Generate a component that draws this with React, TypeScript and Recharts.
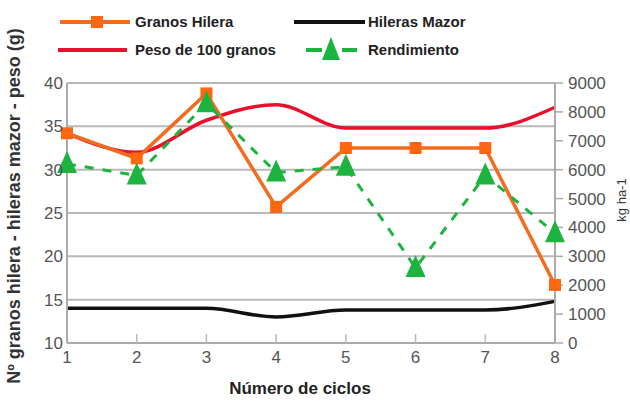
import React from 'react';
import { ComposedChart, Line, XAxis, YAxis, CartesianGrid, Label } from 'recharts';

const cycles = [1, 2, 3, 4, 5, 6, 7, 8];
const granosHilera = [34.2, 31.3, 38.8, 25.7, 32.5, 32.5, 32.5, 16.7];
const pesoGranos = [34.2, 32.0, 35.7, 37.5, 34.8, 34.8, 34.8, 37.2];
const hilerasMazor = [14.0, 14.0, 14.0, 13.0, 13.8, 13.8, 13.8, 14.8];
const rendimiento = [6200, 5800, 8300, 5900, 6100, 2600, 5800, 3800];
const leftTicks = [10, 15, 20, 25, 30, 35, 40];
const rightTicks = [0, 1000, 2000, 3000, 4000, 5000, 6000, 7000, 8000, 9000];

const seriesNames = ['Granos Hilera', 'Hileras Mazor', 'Peso de 100 granos', 'Rendimiento'];
const leftTitle = 'Nº granos hilera - hileras mazor - peso (g)';
const rightTitle = 'kg ha-1';
const xTitle = 'Número de ciclos';

const data = cycles.map((c, i) => ({
  ciclo: c,
  granos: granosHilera[i],
  peso: pesoGranos[i],
  hileras: hilerasMazor[i],
  rend: rendimiento[i],
}));

const ORANGE = '#f26b1f';
const ORANGE_MK = '#ff6610';
const RED = '#e8102c';
const BLACK = '#111111';
const GREEN = '#1db33f';
const FONT = '"Liberation Sans", Arial, sans-serif';

const SquareDot = (props: any) => {
  const { cx, cy } = props;
  if (cx == null || cy == null) return null;
  return <rect x={cx - 6} y={cy - 6} width={12} height={12} fill={ORANGE_MK} />;
};

const TriangleDot = (props: any) => {
  const { cx, cy } = props;
  if (cx == null || cy == null) return null;
  return <polygon points={`${cx},${cy - 13} ${cx - 10},${cy + 9} ${cx + 10},${cy + 9}`} fill={GREEN} />;
};

const LegendOverlay = () => (
  <svg width={630} height={70} style={{ position: 'absolute', left: 0, top: 0 }}>
    <g fontFamily={FONT} fontSize={15} fill="#222" fontWeight="bold">
      <line x1={60} x2={130} y1={22} y2={22} stroke={ORANGE} strokeWidth={4} />
      <rect x={91} y={16} width={12} height={12} fill={ORANGE_MK} />
      <text x={135} y={27}>{seriesNames[0]}</text>
      <line x1={294} x2={365} y1={22} y2={22} stroke={BLACK} strokeWidth={4} />
      <text x={368} y={27}>{seriesNames[1]}</text>
      <line x1={58} x2={127} y1={50} y2={50} stroke={RED} strokeWidth={4} />
      <text x={135} y={55}>{seriesNames[2]}</text>
      <line x1={306} x2={322} y1={50} y2={50} stroke={GREEN} strokeWidth={4} />
      <polygon points="331,37 322,60 340,60" fill={GREEN} />
      <line x1={342} x2={357} y1={50} y2={50} stroke={GREEN} strokeWidth={4} />
      <text x={368} y={55}>{seriesNames[3]}</text>
    </g>
  </svg>
);

export default function App() {
  return (
    <div style={{ position: 'absolute', left: 0, top: 0, width: 630, height: 403, background: '#fff', overflow: 'hidden' }}>
      <ComposedChart
        width={630}
        height={403}
        data={data}
        margin={{ top: 83, right: 20, bottom: 30, left: 17 }}
      >
        <CartesianGrid vertical={false} stroke="#b8b8b8" strokeWidth={2} yAxisId="left" />
        <XAxis
          dataKey="ciclo"
          type="number"
          domain={[1, 8]}
          ticks={cycles}
          height={30}
          axisLine={{ stroke: '#aaaaaa', strokeWidth: 2 }}
          tickLine={{ stroke: '#bbbbbb', strokeWidth: 1.5 }}
          tickSize={-9}
          tickMargin={17}
          tick={{ fill: '#555', fontSize: 17, fontFamily: FONT }}
          interval={0}
        >
          <Label
            content={() => (
              <text x={300} y={394} textAnchor="middle" fontFamily={FONT} fontSize={17} fontWeight="bold" fill="#222">
                {xTitle}
              </text>
            )}
          />
        </XAxis>
        <YAxis
          yAxisId="left"
          orientation="left"
          domain={[10, 40]}
          ticks={leftTicks}
          width={50}
          axisLine={{ stroke: '#aaaaaa', strokeWidth: 2 }}
          tickLine={false}
          tickSize={2}
          tickMargin={2}
          tick={{ fill: '#555', fontSize: 17, fontFamily: FONT }}
          interval={0}
        >
          <Label
            content={() => (
              <text x={20} y={206} transform="rotate(-90, 20, 206)" textAnchor="middle" fontFamily={FONT} fontSize={18} fontWeight="bold" fill="#333">
                {leftTitle}
              </text>
            )}
          />
        </YAxis>
        <YAxis
          yAxisId="right"
          orientation="right"
          domain={[0, 9000]}
          ticks={rightTicks}
          width={55}
          axisLine={{ stroke: '#aaaaaa', strokeWidth: 2 }}
          tickLine={{ stroke: '#aaaaaa', strokeWidth: 1.5 }}
          tickSize={8}
          tickMargin={5}
          tick={{ fill: '#555', fontSize: 17, fontFamily: FONT }}
          interval={0}
        >
          <Label
            content={() => (
              <text x={626} y={200} transform="rotate(-90, 626, 200)" textAnchor="middle" fontFamily={FONT} fontSize={13} fill="#333">
                {rightTitle}
              </text>
            )}
          />
        </YAxis>
        <Line yAxisId="left" dataKey="peso" type="monotone" stroke={RED} strokeWidth={3.5} dot={false} isAnimationActive={false} />
        <Line yAxisId="left" dataKey="hileras" type="monotone" stroke={BLACK} strokeWidth={3.5} dot={false} isAnimationActive={false} />
        <Line yAxisId="left" dataKey="granos" type="linear" stroke={ORANGE} strokeWidth={3.5} dot={<SquareDot />} isAnimationActive={false} />
        <Line yAxisId="right" dataKey="rend" type="linear" stroke={GREEN} strokeWidth={3} strokeDasharray="9 9" dot={<TriangleDot />} isAnimationActive={false} />
      </ComposedChart>
      <LegendOverlay />
    </div>
  );
}
